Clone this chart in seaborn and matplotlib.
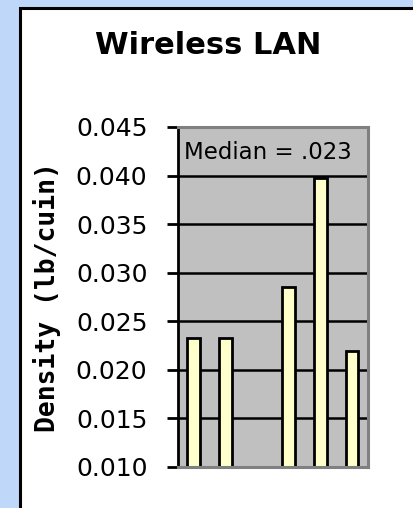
import numpy as np
import pandas as pd
import matplotlib
matplotlib.use("Agg")
import matplotlib.pyplot as plt
from matplotlib.patches import Rectangle
import seaborn as sns

# Samples on the category axis (slot "3" has no measurement)
categories = ["1", "2", "3", "4", "5", "6"]
sample_ids = ["1", "2", "4", "5", "6"]
density = [0.0233, 0.0233, 0.0285, 0.0397, 0.0219]
y_ticks = [0.010, 0.015, 0.020, 0.025, 0.030, 0.035, 0.040, 0.045]

df = pd.DataFrame({"sample": sample_ids, "density": density})

sns.set_style("white")
plt.rcParams["font.family"] = ["DejaVu Sans"]
plt.rcParams["text.color"] = "black"
plt.rcParams["axes.labelcolor"] = "black"
plt.rcParams["ytick.color"] = "black"
plt.rcParams["ytick.labelcolor"] = "black"

fig = plt.figure(figsize=(4.14, 5.08), dpi=100)
fig.patch.set_facecolor("#BFD8FA")

# White chart panel with black frame
panel = Rectangle((20 / 414, -0.05), 1.0, (508 - 8) / 508 + 0.05,
                  transform=fig.transFigure, facecolor="white",
                  edgecolor="black", linewidth=2.2, zorder=-5)
fig.patches.append(panel)

ax = fig.add_axes([178 / 414, (508 - 467) / 508, 190 / 414, 340 / 508])
ax.set_facecolor("#C0C0C0")

sns.barplot(data=df, x="sample", y="density", order=categories,
            color="#FFFFCC", edgecolor="black", linewidth=2,
            width=0.4, saturation=1, errorbar=None, ax=ax)

ax.set_ylim(y_ticks[0], y_ticks[-1])
ax.set_yticks(y_ticks)
ax.set_yticklabels([f"{t:.3f}" for t in y_ticks], fontsize=18)
ax.set_xticks([])
ax.set_xlabel("")
ax.set_ylabel("Density (lb/cuin)", fontsize=19, fontweight="bold",
              family="DejaVu Sans Mono", labelpad=11)

ax.set_axisbelow(True)
ax.yaxis.grid(True, color="black", linewidth=1.8)
ax.tick_params(axis="y", direction="out", length=8, width=2,
               color="black", pad=14, left=True)

for side in ["top", "right", "bottom"]:
    ax.spines[side].set_color("#808080")
    ax.spines[side].set_linewidth(2.2)
ax.spines["left"].set_color("black")
ax.spines["left"].set_linewidth(2)

median = np.median(density)
ax.text(0.03, 0.924, "Median = " + f"{median:.3f}".lstrip("0"),
        transform=ax.transAxes, fontsize=16.5, va="center", ha="left")

fig.text(208 / 414, 1 - 45 / 508, "Wireless LAN", fontsize=22,
         fontweight="bold", ha="center", va="center")

fig.savefig("out.png", dpi=100, facecolor=fig.get_facecolor())
